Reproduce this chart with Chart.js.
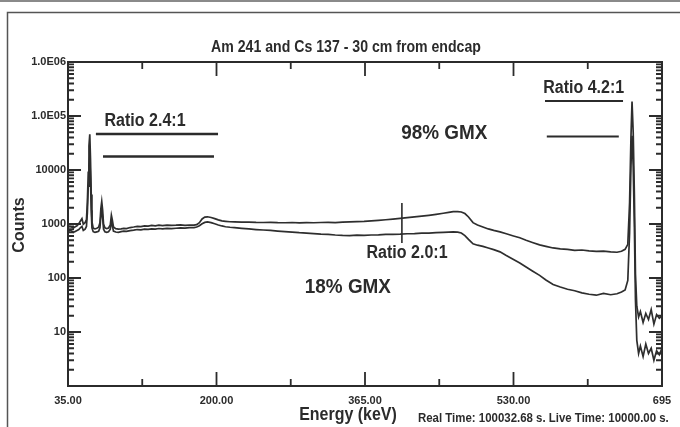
<!DOCTYPE html>
<html>
    <head>
        <meta charset="utf-8"/>
        <title>Am 241 and Cs 137 spectrum</title>
        <style>
            body { margin: 0; background: #fff; }
            canvas { display: block; }
        </style>
    </head>
    <body>
        <canvas id="spectrum" width="680" height="427"></canvas>

        <script src="https://cdn.jsdelivr.net/npm/chart.js@4.4.1/dist/chart.umd.min.js"></script>
        <script>
            // energies (keV) and counts
            var energyUpper = [35, 37, 39, 41, 43, 45, 47, 49, 50.5, 52, 54, 55.5, 56.5, 57.5, 58.3, 59.2, 60, 60.8, 61.6, 63,
                65, 67, 69, 70.5, 71.5, 72.5, 73.5, 74.5, 76, 78, 80, 82, 83.2, 84.2, 85.5, 88, 91, 94, 97, 100,
                104, 108, 112, 116, 120, 124, 128, 132, 136, 140, 145, 150, 155, 160, 165, 170, 175, 178, 181, 184,
                187, 190, 194, 198, 202, 206, 210, 215, 220, 228, 236, 244, 252, 260, 268, 276, 284, 292, 300, 308,
                316, 324, 332, 340, 348, 356, 364, 372, 380, 388, 396, 404, 412, 420, 428, 436, 444, 452, 458, 463,
                468, 472, 476, 480, 485, 490, 496, 502, 508, 515, 522, 530, 537, 544, 551, 559, 566, 574, 582, 590,
                598, 606, 614, 622, 630, 638, 645, 650, 654, 657, 659, 660.5, 661.7, 663, 664.3, 665.5, 667, 669, 671, 674,
                677, 680, 683, 686, 689, 692, 695];
            var countsUpper = [870, 905, 880, 845, 890, 930, 1010, 1150, 1260, 990, 1060, 1200, 2500, 9000, 28000, 46000, 16000, 3500, 1100, 840,
                810, 835, 870, 1050, 1900, 2600, 1800, 1000, 850, 820, 845, 960, 1450, 1200, 880, 820, 805, 815, 830, 820,
                860, 880, 905, 895, 925, 915, 940, 925, 950, 935, 955, 940, 950, 965, 945, 955, 950, 975, 1060, 1240,
                1340, 1360, 1320, 1260, 1190, 1140, 1120, 1100, 1095, 1080, 1085, 1070, 1065, 1075, 1060, 1055, 1065, 1050, 1060, 1055,
                1065, 1070, 1060, 1080, 1095, 1110, 1120, 1145, 1170, 1200, 1235, 1270, 1310, 1350, 1400, 1450, 1510, 1580, 1640, 1690,
                1700, 1670, 1560, 1350, 1060, 960, 880, 810, 760, 715, 660, 600, 555, 500, 455, 410, 385, 360, 345, 338,
                325, 330, 318, 310, 315, 305, 300, 312, 340, 420, 2500, 40000, 185000, 50000, 3500, 120, 30, 19, 24, 15,
                22, 17, 26, 14, 21, 18, 20];

            var energyLower = [35, 37, 39, 41, 43, 45, 47, 49, 50.5, 52, 54, 55.5, 56.5, 57.5, 58.3, 59.2, 60, 60.8, 61.6, 63,
                65, 67, 69, 70.5, 71.5, 72.5, 73.5, 74.5, 76, 78, 80, 82, 83.2, 84.2, 85.5, 88, 91, 94, 97, 100,
                104, 108, 112, 116, 120, 124, 128, 132, 136, 140, 145, 150, 155, 160, 165, 170, 175, 178, 181, 184,
                187, 190, 194, 198, 202, 206, 210, 215, 220, 228, 236, 244, 252, 260, 268, 276, 284, 292, 300, 308,
                316, 324, 332, 340, 348, 356, 364, 372, 380, 388, 396, 404, 412, 420, 428, 436, 444, 452, 458, 463,
                468, 472, 476, 480, 485, 490, 496, 502, 508, 515, 522, 530, 537, 544, 551, 559, 566, 574, 582, 590,
                598, 606, 614, 622, 630, 638, 645, 650, 654, 657, 659, 660.5, 661.7, 663, 664.3, 665.5, 667, 669, 671, 674,
                677, 680, 683, 686, 689, 692, 695];
            var countsLower = [720, 760, 740, 700, 730, 760, 790, 860, 900, 760, 800, 900, 1600, 5000, 12000, 18000, 7000, 1800, 850, 720,
                700, 715, 730, 850, 1400, 1850, 1300, 800, 720, 700, 720, 800, 1100, 950, 740, 710, 700, 720, 735, 730,
                755, 770, 790, 780, 805, 795, 815, 805, 825, 815, 830, 820, 835, 850, 840, 855, 860, 880, 930, 1010,
                1070, 1090, 1060, 1010, 960, 920, 890, 870, 855, 830, 810, 790, 775, 760, 740, 725, 705, 690, 680, 665,
                650, 640, 625, 615, 610, 620, 615, 625, 630, 640, 645, 650, 660, 665, 675, 680, 690, 700, 710, 715,
                705, 680, 610, 520, 430, 405, 385, 360, 335, 305, 260, 220, 190, 160, 135, 112, 92, 76, 68, 62,
                58, 53, 50, 48, 52, 49, 51, 55, 60, 90, 700, 12000, 43000, 12000, 900, 40, 7, 4, 5.5, 3.5,
                6, 4, 5, 3, 4.5, 3.8, 5];

            // ratio marker lines: [energy from, energy to, counts from, counts to]
            var ratioMarks = [
                [66, 201.7, 46400, 46400],
                [73.9, 197.2, 17800, 17800],
                [565, 651.7, 189600, 189600],
                [567, 647, 41700, 41700],
                [406, 406, 2450, 445]
            ];
            var ratioWidths = [2.6, 2.6, 2, 2, 1.6];

            // annotation texts: [text, energy, counts]
            var noteTexts = [
                ['Ratio 2.4:1', 120.6, 80800],
                ['98% GMX', 453, 48400],
                ['Ratio 4.2:1', 608, 330000],
                ['Ratio 2.0:1', 411.7, 284],
                ['18% GMX', 346, 68]
            ];

            var xTicks = [35, 200, 365, 530, 695];
            var xTickLabels = ['35.00', '200.00', '365.00', '530.00', '695'];
            var yTicks = [1, 10, 100, 1000, 10000, 100000, 1000000];
            var yTickLabels = ['', '10', '100', '1000', '10000', '1.0E05', '1.0E06'];

            var ink = '#2b2b2b';
            var face = "'Liberation Sans Narrow', 'Liberation Sans', Arial, sans-serif";

            function toPoints(xs, ys) {
                return xs.map(function (x, i) { return { x: x, y: ys[i] }; });
            }

            // bold text squeezed sideways, like the condensed face of the original
            function squeezed(c, text, x, y, size, sx) {
                c.save();
                c.translate(x, y);
                c.scale(sx, 1);
                c.font = 'bold ' + size + 'px ' + face;
                c.fillText(text, 0, 0);
                c.restore();
            }

            var datasets = [
                { data: toPoints(energyUpper, countsUpper), borderColor: '#2e2e2e', borderWidth: 1.7 },
                { data: toPoints(energyLower, countsLower), borderColor: '#2e2e2e', borderWidth: 1.7 }
            ];
            ratioMarks.forEach(function (m, i) {
                datasets.push({
                    data: [{ x: m[0], y: m[2] }, { x: m[1], y: m[3] }],
                    borderColor: ink, borderWidth: ratioWidths[i]
                });
            });

            // frame, inward ticks and texts
            var decor = {
                id: 'decor',
                beforeDraw: function (chart) {
                    var c = chart.ctx;
                    c.save();
                    c.fillStyle = '#fff';
                    c.fillRect(0, 0, chart.width, chart.height);
                    c.strokeStyle = '#8a8a8a';
                    c.lineWidth = 2;
                    c.beginPath(); c.moveTo(0, 1); c.lineTo(chart.width, 1); c.stroke();
                    c.strokeStyle = '#555';
                    c.lineWidth = 1.5;
                    c.beginPath();
                    c.moveTo(chart.width + 2, 12.5); c.lineTo(7.5, 12.5); c.lineTo(7.5, chart.height + 2);
                    c.stroke();
                    c.restore();
                },
                afterDatasetsDraw: function (chart) {
                    var c = chart.ctx, a = chart.chartArea;
                    var xs = chart.scales.x, ys = chart.scales.y;
                    c.save();
                    c.strokeStyle = ink;
                    c.lineWidth = 2;
                    c.strokeRect(a.left, a.top, a.right - a.left, a.bottom - a.top);

                    c.lineWidth = 1.8;
                    c.beginPath();
                    // x ticks, top and bottom
                    for (var i = 0; i < xTicks.length; i++) {
                        var px = xs.getPixelForValue(xTicks[i]);
                        if (i > 0 && i < xTicks.length - 1) {
                            c.moveTo(px, a.bottom); c.lineTo(px, a.bottom - 14);
                            c.moveTo(px, a.top); c.lineTo(px, a.top + 14);
                        }
                        if (i < xTicks.length - 1) {
                            var pm = xs.getPixelForValue((xTicks[i] + xTicks[i + 1]) / 2);
                            c.moveTo(pm, a.bottom); c.lineTo(pm, a.bottom - 7);
                            c.moveTo(pm, a.top); c.lineTo(pm, a.top + 7);
                        }
                    }
                    // y ticks, left and right
                    for (var d = 0; d < yTicks.length - 1; d++) {
                        for (var k = 1; k < 10; k++) {
                            if (k === 1 && d === 0) continue;
                            var py = ys.getPixelForValue(yTicks[d] * k);
                            var len = k === 1 ? 13 : 6;
                            c.moveTo(a.left, py); c.lineTo(a.left + len, py);
                            c.moveTo(a.right, py); c.lineTo(a.right - len, py);
                        }
                    }
                    c.stroke();

                    c.fillStyle = ink;
                    c.textAlign = 'center';
                    c.textBaseline = 'middle';
                    noteTexts.forEach(function (t) {
                        var big = t[0].indexOf('GMX') > 0;
                        squeezed(c, t[0], xs.getPixelForValue(t[1]), ys.getPixelForValue(t[2]),
                            big ? 21 : 18, big ? 0.9 : 0.89);
                    });

                    squeezed(c, 'Am 241 and Cs 137 - 30 cm from endcap', 346, 47, 17, 0.83);
                    squeezed(c, 'Energy (keV)', 348, 415, 19, 0.84);
                    c.textAlign = 'left';
                    squeezed(c, 'Real Time: 100032.68 s. Live Time: 10000.00 s.', 418, 418, 13, 0.88);

                    c.translate(19, 225);
                    c.rotate(-Math.PI / 2);
                    c.textAlign = 'center';
                    squeezed(c, 'Counts', 0, 0, 17, 0.95);
                    c.restore();
                }
            };

            var tickFont = { family: face, size: 11, weight: 'bold' };

            new Chart(document.getElementById('spectrum').getContext('2d'), {
                type: 'line',
                data: { datasets: datasets },
                options: {
                    responsive: false,
                    animation: false,
                    layout: { padding: { left: 0, top: 62, right: 18, bottom: 0 } },
                    elements: { point: { radius: 0 }, line: { tension: 0 } },
                    plugins: { legend: { display: false }, tooltip: { enabled: false }, title: { display: false } },
                    scales: {
                        x: {
                            type: 'linear', min: 35, max: 695,
                            afterBuildTicks: function (s) { s.ticks = xTicks.map(function (v) { return { value: v }; }); },
                            afterFit: function (s) { s.height = 41; },
                            ticks: {
                                callback: function (v, i) { return xTickLabels[i]; },
                                font: tickFont, color: ink, padding: 8, maxRotation: 0, autoSkip: false
                            },
                            grid: { display: false, drawTicks: false },
                            border: { display: false }
                        },
                        y: {
                            type: 'logarithmic', min: 1, max: 1000000,
                            afterBuildTicks: function (s) { s.ticks = yTicks.map(function (v) { return { value: v }; }); },
                            afterFit: function (s) { s.width = 68; },
                            ticks: {
                                callback: function (v, i) { return yTickLabels[i]; },
                                font: tickFont, color: ink, padding: 2, autoSkip: false
                            },
                            grid: { display: false, drawTicks: false },
                            border: { display: false }
                        }
                    }
                },
                plugins: [decor]
            });
        </script>
    </body>
</html>
